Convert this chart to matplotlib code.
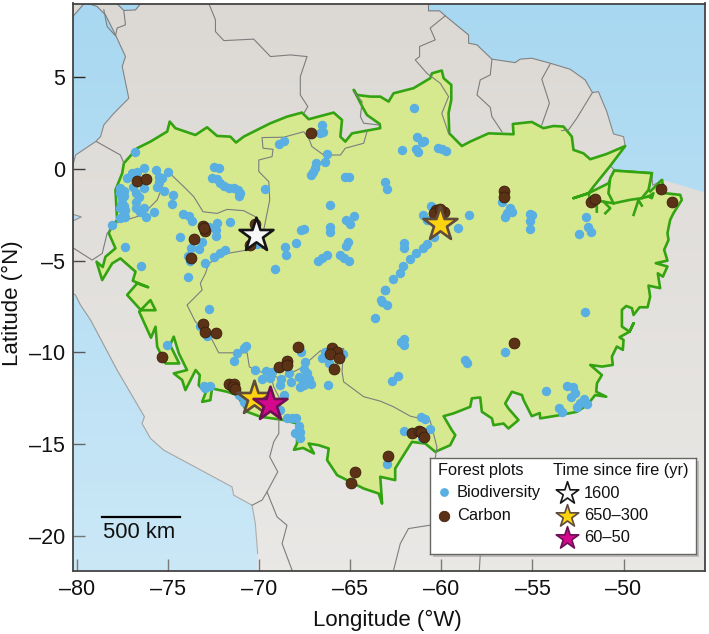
import numpy as np
import matplotlib
matplotlib.use("Agg")
import matplotlib.pyplot as plt
from matplotlib.patches import Rectangle

plt.rcParams['font.family'] = ['Liberation Sans', 'DejaVu Sans']

# plots (lon, lat)
biodiversity = [
    (-76.84,0.93),(-76.31,0.03),(-77.26,-0.48),(-76.99,-0.25),(-76.71,-0.15),(-75.70,-0.06),(-75.03,-0.15),
    (-75.52,-0.43),(-75.34,-0.52),(-75.52,-0.70),(-75.61,-0.97),(-75.21,-1.19),(-76.31,-1.03),(-76.93,-0.97),
    (-77.63,-1.06),(-77.63,-1.34),(-77.53,-1.61),(-77.53,-1.88),(-77.63,-2.15),(-77.45,-2.43),(-77.63,-2.70),(-77.35,-2.61),
    (-77.45,-1.2),(-77.45,-2.0),(-77.45,-1.5),(-77.4,-2.25),(-77.5,-2.6),(-76.8,-1.34),(-76.62,-1.55),(-76.8,-1.79),(-76.8,-2.15),(-76.53,-2.34),(-76.31,-2.15),
    (-76.2,-2.61),(-75.8,-2.35),(-74.81,-1.92),(-74.74,-1.41),(-78.08,-3.08),(-77.35,-4.28),(-76.49,-5.28),
    (-73.93,-5.88),(-73.0,-5.15),(-74.33,-3.73),(-74.19,-2.46),(-73.88,-2.57),(-73.69,-2.83),(-72.78,-3.15),
    (-72.32,-2.93),(-72.36,-3.33),(-72.36,-3.66),(-71.59,-2.88),(-73.14,-3.97),(-73.75,-4.33),(-73.29,-4.37),
    (-73.93,-4.75),(-73.82,-5.0),(-72.5,-4.82),(-72.14,-4.61),(-71.9,-4.42),(-72.5,0.12),(-72.23,0.06),
    (-72.6,-0.52),(-72.32,-0.55),(-72.14,-0.75),(-71.92,-0.94),(-71.68,-1.06),(-71.41,-1.06),(-71.17,-1.15),
    (-71.04,-1.3),(-71.13,-1.48),(-69.70,-1.08),(-70.22,-3.01),(-70.13,-4.1),(-68.9,1.33),(-68.66,1.52),
    (-66.54,2.39),(-66.65,1.97),(-66.52,2.02),(-66.28,0.81),(-66.41,0.35),(-66.87,0.30),(-66.96,0.03),
    (-67.05,-0.15),(-67.14,-0.34),(-65.28,-0.43),(-65.08,-0.43),(-63.08,-0.74),(-62.99,-1.12),(-66.14,-1.99),
    (-65.22,-2.79),(-65.04,-3.01),(-64.82,-2.55),(-66.1,-3.19),(-66.14,-3.42),(-67.56,-3.30),(-67.71,-3.33),
    (-67.98,-4.02),(-68.57,-4.24),(-68.52,-4.70),(-69.12,-5.46),(-66.8,-5.02),(-66.56,-4.84),(-66.28,-4.70),
    (-65.15,-3.97),(-65.22,-4.21),(-65.55,-4.70),(-65.37,-4.88),(-65.09,-5.02),(-63.08,-6.6),(-63.3,-7.15),
    (-61.48,3.33),(-61.35,1.75),(-61.07,1.48),(-60.98,1.53),(-62.19,1.03),(-61.4,1.06),(-61.31,0.93),
    (-60.21,1.15),(-59.98,1.08),(-59.76,0.99),(-56.68,-1.79),(-56.23,-2.15),(-56.41,-2.43),(-56.13,-2.34),
    (-56.5,-2.61),(-55.13,-2.48),(-55.0,-2.52),(-55.13,-2.84),(-55.11,-3.3),(-52.05,-2.64),(-51.93,-3.15),
    (-51.8,-3.42),(-52.46,-3.57),(-58.48,-2.53),(-59.1,-3.24),(-60.58,-2.03),(-61.04,-2.52),(-60.8,-2.79),
    (-60.43,-3.7),(-62.04,-4.02),(-62.04,-4.33),(-60.8,-4.12),(-61.02,-4.33),(-61.42,-4.57),(-61.71,-4.93),
    (-62.1,-5.28),(-62.26,-5.7),(-62.65,-6.02),(-63.1,-6.6),(-63.26,-7.24),(-62.99,-7.42),(-63.63,-8.14),
    (-72.78,-7.65),(-73.27,-8.56),(-72.87,-9.09),(-75.06,-9.6),(-70.73,-9.65),(-70.82,-9.78),(-71.22,-10.02),
    (-71.37,-10.49),(-70.22,-10.96),(-69.85,-11.45),(-69.63,-11.01),(-69.3,-11.09),(-69.43,-11.41),
    (-68.81,-11.47),(-68.88,-11.78),(-68.39,-11.14),(-68.24,-11.6),(-67.69,-9.96),(-67.47,-10.51),(-67.56,-10.92),
    (-67.38,-11.14),(-67.84,-11.36),(-67.66,-11.47),(-67.29,-11.47),(-67.16,-11.74),(-67.75,-11.87),(-67.56,-11.78),
    (-66.56,-10.32),(-66.38,-9.96),(-66.19,-10.56),(-65.4,-10.09),(-66.23,-11.78),(-73.05,-11.83),(-72.96,-11.96),
    (-72.72,-11.81),(-71.13,-12.32),(-70.86,-12.69),(-68.66,-12.32),(-68.84,-13.14),(-68.48,-13.56),(-68.2,-13.59),
    (-67.97,-13.56),(-67.84,-14.01),(-68.02,-14.41),(-67.75,-14.32),(-67.75,-14.68),(-63.0,-16.05),
    (-52.11,-7.8),(-56.5,-9.96),(-62.08,-9.29),(-62.23,-9.42),(-62.08,-9.6),(-58.69,-10.41),(-58.57,-10.56),
    (-62.41,-11.29),(-62.72,-11.54),(-54.25,-12.12),(-53.08,-11.8),(-52.75,-11.9),(-52.69,-12.19),(-52.9,-12.41),
    (-52.16,-12.56),(-51.98,-12.78),(-52.38,-12.74),(-52.57,-12.99),(-53.54,-13.05),(-53.39,-13.23),
    (-61.13,-13.54),(-60.89,-13.63),(-62.08,-14.3),(-60.65,-14.19),(-61.07,-14.68),
]
carbon = [
    (-76.71,-0.66),(-76.22,-0.54),(-67.16,1.95),(-73.11,-3.12),(-73.0,-3.37),(-73.05,-3.24),(-73.6,-3.82),
    (-73.73,-4.88),(-70.49,-4.15),(-70.22,-3.0),(-56.54,-1.19),(-56.57,-1.52),(-51.78,-1.79),(-51.56,-1.64),
    (-47.94,-1.08),(-47.32,-1.81),(-60.29,-2.24),(-59.88,-2.37),(-60.43,-2.43),(-60.1,-2.21),(-73.09,-8.45),
    (-73.0,-8.87),(-72.38,-8.93),(-75.36,-10.25),(-67.89,-9.72),(-68.94,-10.78),(-68.48,-10.45),(-68.48,-10.69),
    (-66.01,-9.74),(-65.73,-9.96),(-66.1,-10.09),(-65.64,-10.29),(-65.88,-10.92),(-71.64,-11.72),(-71.41,-11.72),
    (-71.44,-11.87),(-71.31,-11.99),(-64.73,-16.5),(-64.97,-17.1),(-56.04,-9.51),(-62.96,-15.63),(-61.62,-14.41),
    (-61.26,-14.28),(-61.13,-14.32),(-60.98,-14.59),
]
star_lon = [-70.18, -60.07, -70.31, -69.39]
star_lat = [-3.6, -3.0, -12.5, -12.78]
star_fill = ['#f7f7f7', '#fdd20e', '#fdd20e', '#d4088c']
star_edge = ['#151515', '#5f4b3c', '#5f4b3c', '#6d0f55']

# biome outline, clockwise from the NW corner
biome = [
    (-77.44,0.30),(-76.71,1.12),(-75.98,1.48),(-75.06,2.03),(-74.92,2.57),(-74.61,2.21),(-73.51,1.84),(-72.87,2.26),
    (-72.32,1.79),(-71.59,1.75),(-71.28,1.43),(-70.86,1.75),(-70.12,2.12),(-69.39,2.48),(-68.48,2.84),(-67.66,3.06),
    (-67.29,2.70),(-65.92,3.06),(-65.46,2.66),(-65.55,1.75),(-65.28,1.48),(-64.91,1.93),(-64.09,2.08),(-63.36,2.21),
    (-63.39,2.44),(-64.09,2.93),(-64.3,3.3),(-64.82,4.30),(-64.64,4.02),(-63.9,3.93),(-63.36,3.93),(-62.90,3.66),(-62.63,4.11),
    (-61.53,4.39),(-60.62,4.93),(-60.52,5.20),(-59.98,5.35),(-59.88,4.93),(-59.46,4.57),(-59.46,3.75),(-59.61,3.03),
    (-59.57,1.93),(-58.88,1.24),(-58.42,1.48),(-57.41,1.93),(-56.04,1.88),(-56.08,2.44),(-55.04,2.55),(-54.40,2.21),
    (-53.85,2.33),(-53.30,2.30),(-52.84,1.75),(-52.75,1.03),(-52.20,0.84),(-51.83,0.52),(-50.92,0.81),(-49.91,1.24),
    (-50.73,0.16),(-51.65,-0.97),(-51.92,-1.33),(-52.75,-1.6),(-51.92,-1.33),(-50.83,-0.79),(-50.51,-0.10),(-48.45,-0.24),
    (-48.63,-1.15),(-48.54,-1.24),(-47.9,-0.6),(-47.72,-1.33),(-46.89,-1.42),(-46.8,-1.69),(-47.26,-2.42),(-47.44,-2.78),
    (-47.59,-3.51),(-47.53,-3.87),(-47.77,-4.41),(-47.59,-5.0),(-48.23,-5.14),(-47.59,-5.32),(-47.84,-5.87),(-48.12,-5.69),
    (-47.99,-6.5),(-48.63,-6.36),(-48.54,-6.96),(-48.68,-7.54),(-49.12,-7.54),(-49.45,-7.96),(-49.54,-7.59),(-49.85,-7.47),
    (-50.09,-7.68),(-50.09,-8.59),(-49.67,-8.87),(-49.45,-8.41),(-49.67,-8.87),(-50.22,-9.17),(-50.0,-9.32),(-50.04,-9.86),
    (-50.37,-9.68),(-50.64,-10.23),(-50.59,-10.68),(-51.19,-10.77),(-51.83,-10.68),(-51.19,-11.23),(-51.46,-11.68),
    (-51.5,-12.14),(-50.95,-12.41),(-51.56,-12.32),(-52.0,-12.87),(-52.56,-13.23),(-53.48,-13.41),(-54.58,-13.59),
    (-54.6,-13.3),(-55.04,-13.47),(-55.49,-12.59),(-55.58,-12.32),(-56.13,-12.14),(-56.5,-12.78),(-56.32,-13.05),
    (-55.77,-13.68),(-56.32,-14.14),(-56.59,-13.87),(-57.14,-13.96),(-57.23,-13.59),(-57.78,-13.23),(-57.87,-12.45),
    (-58.33,-12.5),(-58.42,-12.96),(-59.34,-13.32),(-59.88,-13.47),(-59.43,-14.23),(-59.24,-14.5),(-59.52,-15.05),
    (-60.34,-15.41),(-60.89,-14.96),(-61.62,-14.87),(-62.08,-15.59),(-62.54,-16.32),(-62.54,-16.95),(-63.36,-16.77),
    (-63.27,-18.04),(-63.26,-18.23),(-63.45,-17.68),(-64.27,-17.41),(-65.19,-16.95),(-65.73,-16.68),(-66.28,-15.86),
    (-66.19,-15.23),(-66.74,-15.05),(-67.29,-14.96),(-67.0,-15.5),(-67.6,-15.2),(-68.1,-15.3),(-67.93,-14.96),(-67.93,-13.87),
    (-68.66,-13.68),(-69.94,-13.5),(-70.67,-13.23),(-71.22,-12.32),(-71.77,-12.14),(-72.6,-11.96),(-72.69,-12.6),(-73.14,-12.69),
    (-72.95,-12.2),(-73.33,-11.78),(-73.27,-11.23),(-73.5,-10.96),(-74.06,-12.05),(-74.24,-11.5),(-74.7,-11.14),
    (-73.97,-10.96),(-74.42,-10.05),(-74.7,-9.14),(-74.9,-9.6),(-74.4,-10.6),(-75.15,-10.6),(-75.61,-9.69),(-75.7,-8.6),
    (-75.95,-9.2),(-76.6,-7.78),(-75.98,-7.15),(-75.7,-7.7),(-76.5,-7.7),(-77.26,-6.87),(-76.71,-6.24),(-76.1,-6.45),
    (-76.95,-6.1),(-76.8,-5.6),(-77.63,-4.88),(-78.08,-5.15),(-78.63,-6.06),(-78.94,-5.06),(-78.6,-5.35),(-78.45,-4.79),
    (-77.9,-4.33),(-78.27,-3.5),(-78.08,-3.1),(-77.81,-2.79),(-77.9,-1.15),(-77.53,-0.24),
]
marajo = [(-50.51,-0.10),(-48.45,-0.24),(-48.63,-1.15),(-49.0,-1.6),(-49.64,-1.69),(-50.55,-1.88),(-50.83,-1.33),(-50.73,-0.51),(-50.51,-0.10)]
spurs = [
    [(-51.83,-1.69),(-51.47,-2.0),(-51.47,-2.33)],
    [(-50.55,-1.88),(-51.1,-1.79),(-50.73,-2.15),(-51.0,-2.42)],
    [(-51.92,-1.33),(-51.83,-1.69),(-51.1,-1.79)],
    [(-49.45,-2.51),(-49.18,-1.7),(-49.0,-2.0)],
    [(-49.0,-1.6),(-48.63,-1.51),(-48.36,-1.33),(-48.45,-1.6),(-48.63,-1.51)],
]

# sea
pacific_north = [(-81,8.3),(-80.24,8.29),(-79.36,9.3),(-79.36,8.98),(-78.91,8.84),(-78.45,8.38),(-77.9,7.29),(-77.35,6.11),(-77.53,5.57),
                 (-77.17,3.84),(-77.99,3.02),(-78.54,2.39),(-78.72,1.75),(-78.99,1.48),(-80.09,0.75),(-80.28,0.03),(-81,-0.1)]
pacific_gulf = [(-81,-2.24),(-79.78,-2.62),(-81,-3.22)]
pacific_south = [(-81,-6.3),(-80.1,-6.87),(-79.82,-7.42),(-79.27,-8.23),(-77.81,-10.96),(-76.31,-13.5),(-76.44,-13.87),(-75.98,-14.68),
                 (-75.25,-15.32),(-71.5,-17.32),(-71.41,-17.77),(-70.4,-18.32),(-70.22,-19.32),(-70.09,-20.95),(-70.16,-22.5),(-81,-22.5)]
caribbean = [(-77.81,9.5),(-77.81,8.98),(-77.44,8.62),(-76.8,8.65),(-76.53,8.98),(-76.4,9.5)]
atlantic = [(-60.71,9.5),(-60.71,8.6),(-60.1,8.6),(-59.79,8.33),(-58.97,7.66),(-58.51,7.29),(-58.51,6.84),(-58.05,6.75),(-57.23,5.97),
            (-55.95,5.78),(-55.68,5.97),(-55.04,6.02),(-54.03,5.75),(-52.93,5.42),(-52.11,4.84),(-51.71,4.15),(-51.38,4.2),(-50.92,3.11),
            (-50.55,1.9),(-50.0,1.75),(-49.91,1.24),(-50.73,0.16),(-50.46,-0.1),(-48.45,-0.24),(-48.4,-0.9),(-47.81,-0.61),(-45,-1.45),(-45,9.5)]

# country borders
borders = [
    [(-72.8,9.3),(-72.78,9.02),(-72.41,8.11),(-72.41,7.47),(-71.95,6.98),(-70.31,7.06),(-69.39,6.11),(-68.3,6.2),(-67.38,6.11),(-67.75,5.02),(-67.75,4.02),(-67.34,3.39),(-67.56,3.02)],
    [(-64.82,4.2),(-64.36,3.66),(-64.45,2.84),(-64.27,2.48),(-63.45,2.39)],
    [(-64.09,2.02),(-64.27,1.39),(-65.28,1.12),(-65.55,0.75),(-66.47,0.75),(-67.11,1.21),(-67.29,1.66),(-67.56,2.02),(-68.66,1.72),(-69.85,1.7),(-69.8,1.12),(-69.25,1.06),(-69.3,0.66),(-70.03,0.48),(-70.03,-0.15),(-69.48,-0.7),(-69.43,-1.7),(-69.76,-3.33),(-69.85,-4.33)],
    [(-69.85,-4.33),(-70.22,-2.61),(-70.86,-2.28),(-71.77,-2.21),(-72.32,-2.43),(-73.09,-2.34),(-73.6,-1.52),(-74.06,-1.06),(-74.88,-0.28),(-75.06,-0.15),(-75.43,-1.25),(-75.61,-1.7),(-76.44,-2.52),(-77.9,-2.97),(-78.36,-3.52),(-78.63,-4.61),(-79.18,-4.97),(-80.19,-4.33),(-81,-4.0)],
    [(-77.44,0.30),(-77.63,0.75),(-78.94,1.48)],
    [(-70.13,-4.33),(-71.77,-4.61),(-72.78,-5.15),(-72.96,-5.7),(-73.24,-6.24),(-73.14,-6.6),(-73.97,-7.42),(-73.51,-8.33),(-72.78,-8.96),(-72.23,-10.02),(-70.67,-10.02),(-70.55,-10.78),(-70.22,-10.96),(-69.39,-11.23),(-69.21,-11.87),(-68.84,-12.6),(-68.93,-13.78),(-68.93,-14.41),(-69.21,-14.87),(-69.43,-15.68),(-68.99,-16.5),(-69.58,-17.59),(-69.85,-18.04),(-70.4,-18.32)],
    [(-69.39,-11.23),(-68.84,-11.41),(-67.75,-10.87),(-66.65,-9.91),(-65.37,-9.78),(-65.46,-11.05),(-65.37,-11.6),(-64.27,-12.41),(-63.36,-12.65),(-62.63,-12.96),(-61.71,-13.47),(-60.62,-13.72),(-60.25,-15.14),(-60.34,-15.77),(-60.3,-17)],
    [(-69.58,-17.59),(-69.03,-18.95),(-68.48,-19.41),(-68.75,-20.41),(-68.2,-21.86),(-68.1,-22.5)],
    [(-60.3,-19.3),(-60.65,-19.41),(-61.81,-19.59),(-62.26,-20.41),(-62.63,-21.86),(-62.7,-22.5)],
    [(-57.8,-19.5),(-57.87,-21.04),(-57.96,-22.5)],
    [(-59.79,8.33),(-60.62,7.66),(-60.34,7.02),(-61.2,6.66),(-61.2,6.11),(-61.44,5.93),(-60.8,5.2),(-60.07,4.66),(-59.61,3.93),(-59.98,3.02),(-59.61,1.93)],
    [(-57.23,5.93),(-57.32,5.11),(-57.87,4.84),(-58.05,4.02),(-57.32,3.35),(-57.23,2.84),(-56.68,2.02)],
    [(-54.03,5.71),(-54.49,4.88),(-54.07,3.57),(-54.49,2.39)],
    [(-51.71,4.15),(-52.57,2.75),(-53.02,2.12),(-53.39,2.08)],
    [(-78.54,8.66),(-78.36,7.75),(-77.9,7.24),(-77.81,7.66),(-77.35,7.84),(-77.44,8.56)],
]
coast_lines = [pacific_north[1:-1], pacific_gulf, pacific_south[:-2], caribbean, atlantic[:-2]]

xticks = [-80, -75, -70, -65, -60, -55, -50]
yticks = [-20, -15, -10, -5, 0, 5]
legend_times = ['1600', '650–300', '60–50']

W, H = 709, 634
fig = plt.figure(figsize=(W / 100, H / 100), dpi=100)
ax = fig.add_axes([72.5 / W, (H - 571) / H, 633 / W, 567.5 / H])
ax.set_xlim(-80.26, -45.5)
ax.set_ylim(-21.9, 9.0)
ax.set_facecolor('#dcd9d5')

for sea in [pacific_north, pacific_gulf, pacific_south, caribbean, atlantic]:
    xs, ys = zip(*sea)
    ax.fill(xs, ys, color='#a8d8f1', lw=0, zorder=1)
for line in coast_lines:
    xs, ys = zip(*line)
    ax.plot(xs, ys, color='#7d7d7d', lw=0.8, zorder=1.5)

# sea and land get paler towards the bottom
fade = np.zeros((64, 2, 4))
fade[..., :3] = 1
fade[..., 3] = np.linspace(0, 0.4, 64)[:, None]
ax.imshow(fade, extent=(-80.26, -45.5, -21.9, 9.0), origin='upper', aspect='auto', zorder=1.8)

xs, ys = zip(*biome)
ax.fill(xs, ys, facecolor='#d7e98f', edgecolor='#33a312', lw=1.9, joinstyle='round', zorder=2)
xs, ys = zip(*marajo)
ax.fill(xs, ys, facecolor='#d7e98f', edgecolor='#33a312', lw=1.9, zorder=2.1)
for s in spurs:
    xs, ys = zip(*s)
    ax.plot(xs, ys, color='#33a312', lw=1.9, zorder=2.1)
for line in borders:
    xs, ys = zip(*line)
    ax.plot(xs, ys, color='#7d7d7d', lw=0.8, zorder=2.5)

b = np.array(biodiversity)
c = np.array(carbon)
ax.scatter(b[:, 0], b[:, 1], s=46, color='#59afe1', lw=0, zorder=3)
ax.scatter(c[:, 0], c[:, 1], s=62, color='#5b3216', edgecolor='#33190a', lw=0.5, zorder=4)
for i in range(len(star_lon)):
    ax.scatter(star_lon[i], star_lat[i], s=660, marker='*', color=star_fill[i], edgecolor=star_edge[i], lw=1.9, zorder=5 + i)

# scale bar
ax.plot([-78.63, -74.37], [-18.97, -18.97], color='k', lw=1.6, zorder=6)
ax.text(-76.58, -19.8, '500 km', ha='center', va='center', fontsize=15.8, color='#111111', zorder=6)

ax.set_xticks(xticks)
ax.set_yticks(yticks)
ax.set_xticklabels([str(v).replace('-', '–') for v in xticks])
ax.set_yticklabels([str(v).replace('-', '–') for v in yticks])
ax.tick_params(direction='in', length=8.5, width=1, labelsize=15.5, color='#222222', labelcolor='#111111')
ax.tick_params(axis='x', pad=6)
ax.tick_params(axis='y', pad=5.4)
for sp in ax.spines.values():
    sp.set_linewidth(1.3)
    sp.set_color('#444444')
ax.set_xlabel('Longitude (°W)', fontsize=16, color='#111111', va='center')
ax.xaxis.set_label_coords(0.498, -0.0863)
ax.set_ylabel('Latitude (°N)', fontsize=16, color='#111111', va='center')
ax.yaxis.set_label_coords(-0.0956, 0.472)

# legend box, laid out in pixels
fig.add_artist(Rectangle(((430 + 2.5) / W, (H - 556.5) / H), 266 / W, 96 / H, transform=fig.transFigure, color='#999999', alpha=0.55, lw=0, zorder=4))
lg = fig.add_axes([430 / W, (H - 554) / H, 266 / W, 96 / H], zorder=5)
lg.set_xlim(0, 266)
lg.set_ylim(96, 0)
lg.set_xticks([])
lg.set_yticks([])
for sp in lg.spines.values():
    sp.set_linewidth(1)
    sp.set_color('#666666')
lg.text(8, 12, 'Forest plots', fontsize=11.8, va='center', color='#111111')
lg.text(123, 12, 'Time since fire (yr)', fontsize=11.8, va='center', color='#111111')
lg.scatter(14, 34, s=40, color='#59afe1', lw=0)
lg.scatter(14, 58, s=58, color='#5b3216', edgecolor='#33190a', lw=0.5)
lg.text(27, 34, 'Biodiversity', fontsize=11.8, va='center', color='#111111')
lg.text(27, 58, 'Carbon', fontsize=11.8, va='center', color='#111111')
for y, t, f, e in zip([35, 58, 80], legend_times, [star_fill[0], star_fill[1], star_fill[3]], [star_edge[0], star_edge[1], star_edge[3]]):
    lg.scatter(137, y, s=290, marker='*', color=f, edgecolor=e, lw=1.2)
    lg.text(154, y, t, fontsize=11.8, va='center', color='#111111')

fig.savefig('out.png', dpi=100)
